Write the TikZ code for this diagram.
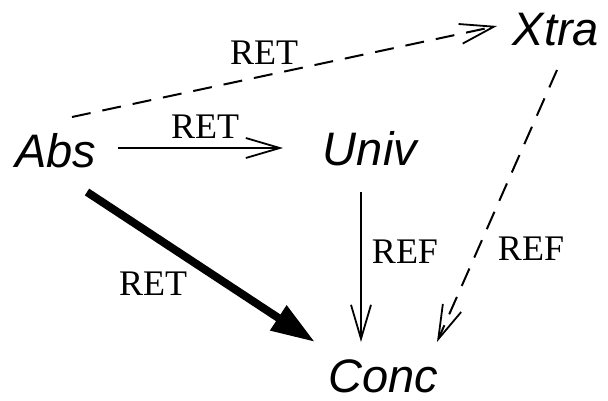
\documentclass[tikz,border=0pt]{standalone}
\usepackage{fontspec}
\setmainfont{Liberation Serif}
\newfontfamily\modfont{Liberation Sans}
\usetikzlibrary{arrows.meta,calc}
\begin{document}
\begin{tikzpicture}[x=1pt,y=-1pt,
  module/.style={inner sep=0pt,anchor=base,font=\modfont\itshape\fontsize{47}{50}\selectfont},
  lbl/.style={inner sep=0pt,anchor=base,font=\fontsize{36}{40}\selectfont},
  thinarrow/.style={line width=1.8pt,-{Straight Barb[length=34pt,width=20pt,line width=1.8pt]}},
  dasharrow/.style={line width=2pt,dash pattern=on 19pt off 12pt,-{Straight Barb[length=34pt,width=20pt,line width=1.8pt]}},
  heavyarrow/.style={line width=8pt,-{Triangle[length=44pt,width=28pt]}}]
  \useasboundingbox (0,0) rectangle (608,400);

  % modules
  \node[module] (Abs)  at (56,167)  {Abs};
  \node[module] (Univ) at (370,165) {Univ};
  \node[module] (Xtra) at (556,45)  {Xtra};
  \node[module] (Conc) at (383,392) {Conc};

  % relations
  \draw[thinarrow]  ($(Abs.base)+(62,-19)$) -- ($(Univ.base)+(-87,-17)$);
  \draw[dasharrow]  ($(Abs.base)+(16,-50)$) -- ($(Xtra.base)+(-59,-19)$);
  \draw[heavyarrow] ($(Abs.base)+(31,25)$)  -- ($(Conc.base)+(-68,-50)$);
  \draw[thinarrow]  ($(Univ.base)+(-9,27)$) -- ($(Conc.base)+(-22,-50)$);
  \draw[dasharrow]  ($(Xtra.base)+(1,25)$)  -- ($(Conc.base)+(54,-50)$);

  % relation labels
  \node[lbl] (l1) at (205,138) {RET};
  \node[lbl] (l2) at (264,64)  {RET};
  \node[lbl] (l3) at (153,295) {RET};
  \node[lbl] (l4) at (405,263) {REF};
  \node[lbl] (l5) at (531,260) {REF};
\end{tikzpicture}
\end{document}
